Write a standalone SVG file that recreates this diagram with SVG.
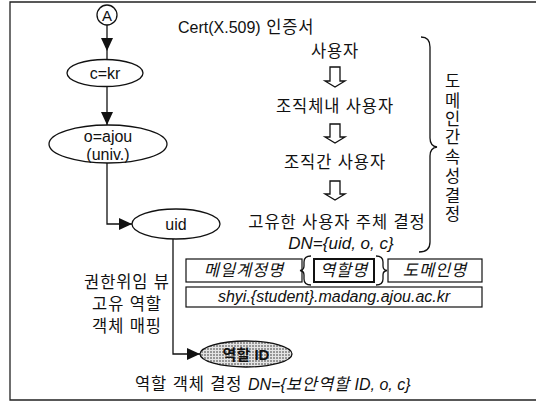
<svg xmlns="http://www.w3.org/2000/svg" width="536" height="403" viewBox="0 0 536 403">
<style>
text{font-family:"Liberation Sans","Noto Sans CJK KR",sans-serif;fill:#111;}
.lat{font-size:16px;}
.ko{font-size:16.5px;letter-spacing:0.9px;}
.it{font-style:italic;}
.shape{fill:#fff;stroke:#111;stroke-width:1.3;}
.con{fill:none;stroke:#111;stroke-width:1.3;}
.box{fill:#fff;stroke:#111;stroke-width:1.2;}
</style>
<defs>
<marker id="ah" markerUnits="userSpaceOnUse" markerWidth="14" markerHeight="12" refX="13" refY="6" orient="auto">
<path d="M0,0 L13,6 L0,12 Z" fill="#111"/>
</marker>
<pattern id="dots" width="3" height="3" patternUnits="userSpaceOnUse">
<rect width="3" height="3" fill="#e4e4e4"/>
<circle cx="1" cy="1" r="0.8" fill="#333"/>
</pattern>
</defs>
<path d="M536 2 H10 V400 H536" fill="none" stroke="#222" stroke-width="1.3"/>

<g id="connectors">
<path class="con" d="M107 25 L107 51 L107 60" marker-mid="url(#ah)"/>
<path class="con" d="M107 87 L107 125" marker-end="url(#ah)"/>
<path class="con" d="M107 163 V224 H132" marker-end="url(#ah)"/>
<path class="con" d="M173 239 V354 H200" marker-end="url(#ah)"/>
</g>

<g id="nodeA">
<circle class="shape" cx="107" cy="15" r="10"/>
<text x="107" y="20.5" text-anchor="middle" style="font-size:15px">A</text>
</g>
<g id="c">
<ellipse class="shape" cx="105" cy="73" rx="38" ry="13.5"/>
<text class="lat" x="105" y="79" text-anchor="middle">c=kr</text>
</g>
<g id="o">
<ellipse class="shape" cx="108" cy="144" rx="59" ry="19"/>
<text class="lat" x="108" y="142" text-anchor="middle">o=ajou</text>
<text class="lat" x="108" y="160" text-anchor="middle">(univ.)</text>
</g>
<g id="uid">
<ellipse class="shape" cx="176" cy="224" rx="44" ry="15"/>
<text class="lat" x="176" y="230" text-anchor="middle">uid</text>
</g>
<g id="role">
<ellipse cx="246" cy="354" rx="46" ry="13" fill="url(#dots)" stroke="#111" stroke-width="1.3"/>
<text x="246" y="360" text-anchor="middle" style="font-size:15px;font-weight:bold">역할 ID</text>
</g>

<g id="cert">
<text x="178" y="33"><tspan class="lat">Cert(X.509)</tspan><tspan class="ko"> 인증서</tspan></text>
</g>
<g id="hierarchy">
<text class="ko" x="335" y="57" text-anchor="middle">사용자</text>
<text class="ko" x="335" y="112" text-anchor="middle">조직체내 사용자</text>
<text class="ko" x="335" y="168" text-anchor="middle">조직간 사용자</text>
<text class="ko" x="337" y="228" text-anchor="middle">고유한 사용자 주체 결정</text>
<text class="lat it" x="341" y="249" text-anchor="middle" style="font-size:17px">DN={uid, o, c}</text>
<path class="con" d="M330 67 V81 H325 L335 87 L345 81 H340 V67 Z"/>
<path class="con" d="M330 124 V137 H325 L335 143 L345 137 H340 V124 Z"/>
<path class="con" d="M330 181 V194 H325 L335 200 L345 194 H340 V181 Z"/>
</g>
<g id="brace">
<path class="con" d="M421 37 Q430 37 430 47 V138 Q430 146 437 147 Q430 148 430 156 V242 Q430 252 419 252"/>
<text class="ko" x="453" text-anchor="middle"><tspan x="453" y="87">도</tspan><tspan x="453" y="107">메</tspan><tspan x="453" y="125">인</tspan><tspan x="453" y="143">간</tspan><tspan x="453" y="163">속</tspan><tspan x="453" y="182">성</tspan><tspan x="453" y="202">결</tspan><tspan x="453" y="220">정</tspan></text>
</g>
<g id="names">
<rect class="box" x="186" y="259" width="116" height="23"/>
<text class="ko it" x="244" y="276" text-anchor="middle">메일계정명</text>
<path class="con" d="M311 256 Q304 256 304 262 V266 Q304 270 300 270.5 Q304 271 304 275 V279 Q304 285 311 285"/>
<rect class="box" x="314" y="259" width="60" height="23" style="stroke-width:2"/>
<text class="ko it" x="344" y="276" text-anchor="middle">역할명</text>
<path class="con" d="M376 256 Q383 256 383 262 V266 Q383 270 387 270.5 Q383 271 383 275 V279 Q383 285 376 285"/>
<rect class="box" x="388" y="259" width="94" height="23"/>
<text class="ko it" x="435" y="276" text-anchor="middle">도메인명</text>
</g>
<g id="email">
<rect class="box" x="186" y="287" width="296" height="20"/>
<text class="lat it" x="334" y="302" text-anchor="middle">shyi.{student}.madang.ajou.ac.kr</text>
</g>
<g id="leftlabel">
<text class="ko" x="127" y="288" text-anchor="middle">권한위임 뷰</text>
<text class="ko" x="127" y="310" text-anchor="middle">고유 역할</text>
<text class="ko" x="127" y="332" text-anchor="middle">객체 매핑</text>
</g>
<g id="bottom">
<text x="135" y="390"><tspan class="ko">역할 객체 결정 </tspan><tspan class="lat it">DN={</tspan><tspan class="ko it">보안역할</tspan><tspan class="lat it"> ID, o, c}</tspan></text>
</g>
</svg>
